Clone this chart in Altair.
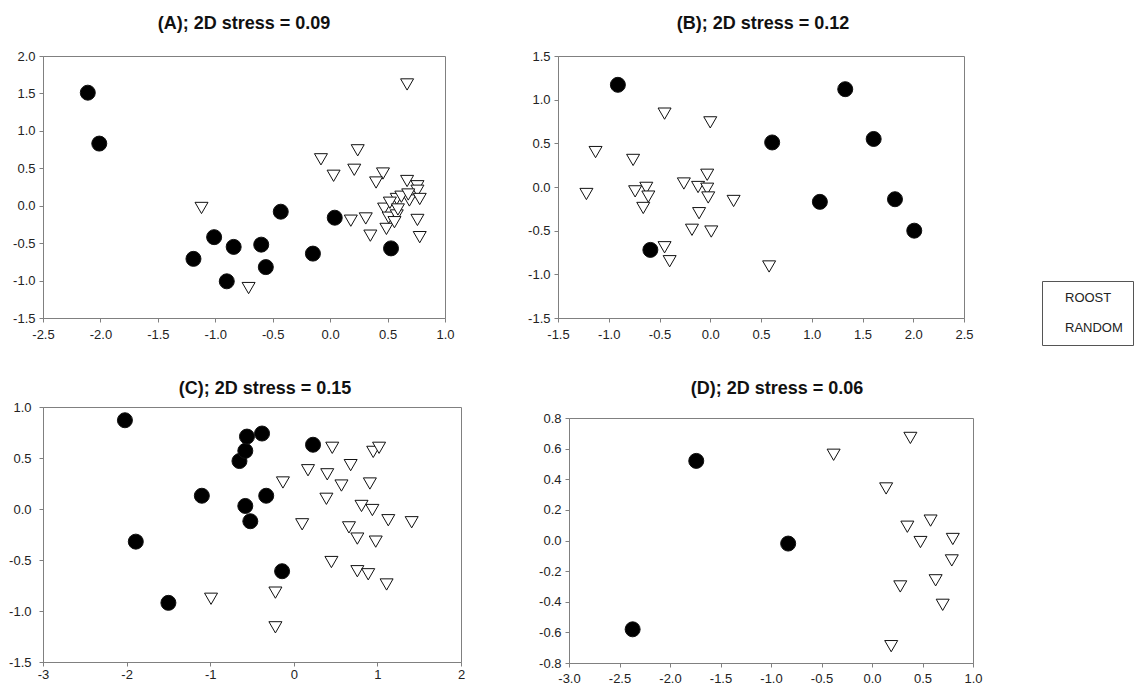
import altair as alt
import pandas as pd

FONT = "Liberation Sans"

# ---------------- Panel A ----------------
A_roost_x = [-2.11, -2.01, -1.19, -1.01, -0.84, -0.90, -0.60, -0.56, -0.43, -0.15, 0.04, 0.53]
A_roost_y = [1.51, 0.83, -0.71, -0.42, -0.55, -1.01, -0.52, -0.82, -0.08, -0.64, -0.16, -0.57]
A_random_x = [-1.12, -0.71, -0.08, 0.03, 0.24, 0.21, 0.46, 0.40, 0.18, 0.31, 0.35, 0.49, 0.47,
              0.51, 0.58, 0.58, 0.67, 0.76, 0.76, 0.69, 0.78, 0.76, 0.78, 0.67, 0.52, 0.59,
              0.62, 0.56, 0.68]
A_random_y = [-0.03, -1.10, 0.62, 0.40, 0.74, 0.48, 0.43, 0.31, -0.20, -0.17, -0.40, -0.31, -0.04,
              -0.16, 0.09, -0.13, 0.33, 0.26, 0.20, 0.07, 0.09, -0.19, -0.42, 1.62, 0.04, -0.05,
              0.12, -0.22, 0.15]
A_xticks = [-2.5, -2.0, -1.5, -1.0, -0.5, 0.0, 0.5, 1.0]
A_yticks = [-1.5, -1.0, -0.5, 0.0, 0.5, 1.0, 1.5, 2.0]

# ---------------- Panel B ----------------
B_roost_x = [-0.91, 1.33, 0.61, 1.61, 1.08, 1.82, 2.01, -0.59]
B_roost_y = [1.17, 1.12, 0.51, 0.55, -0.17, -0.14, -0.50, -0.72]
B_random_x = [-1.22, -1.13, -0.76, -0.45, 0.00, -0.74, -0.63, -0.61, -0.66, -0.26, -0.12,
              -0.03, -0.03, -0.02, -0.11, -0.18, 0.01, 0.23, -0.45, -0.40, 0.58]
B_random_y = [-0.08, 0.40, 0.31, 0.84, 0.74, -0.05, -0.01, -0.11, -0.24, 0.04, 0.00,
              0.14, -0.02, -0.12, -0.30, -0.49, -0.51, -0.16, -0.69, -0.85, -0.91]
B_xticks = [-1.5, -1.0, -0.5, 0.0, 0.5, 1.0, 1.5, 2.0, 2.5]
B_yticks = [-1.5, -1.0, -0.5, 0.0, 0.5, 1.0, 1.5]

# ---------------- Panel C ----------------
C_roost_x = [-2.02, -1.89, -1.50, -1.10, -0.65, -0.58, -0.56, -0.38, -0.58, -0.52, -0.33, 0.23, -0.14]
C_roost_y = [0.87, -0.32, -0.92, 0.13, 0.47, 0.57, 0.71, 0.74, 0.03, -0.12, 0.13, 0.63, -0.61]
C_random_x = [-0.99, -0.22, -0.22, -0.13, 0.10, 0.17, 0.40, 0.46, 0.39, 0.57, 0.68, 0.45, 0.66,
              0.76, 0.76, 0.89, 0.81, 0.94, 0.91, 0.98, 0.95, 1.02, 1.13, 1.11, 1.41]
C_random_y = [-0.88, -0.82, -1.16, 0.26, -0.15, 0.38, 0.34, 0.60, 0.10, 0.23, 0.43, -0.52, -0.18,
              -0.29, -0.61, -0.64, 0.03, -0.01, 0.25, -0.32, 0.56, 0.60, -0.11, -0.74, -0.13]
C_xticks = [-3, -2, -1, 0, 1, 2]
C_yticks = [-1.5, -1.0, -0.5, 0.0, 0.5, 1.0]

# ---------------- Panel D ----------------
D_roost_x = [-2.37, -1.74, -0.83]
D_roost_y = [-0.58, 0.52, -0.02]
D_random_x = [-0.38, 0.38, 0.14, 0.35, 0.58, 0.48, 0.80, 0.79, 0.63, 0.28, 0.70, 0.19]
D_random_y = [0.56, 0.67, 0.34, 0.09, 0.13, -0.01, 0.01, -0.13, -0.26, -0.30, -0.42, -0.69]
D_xticks = [-3.0, -2.5, -2.0, -1.5, -1.0, -0.5, 0.0, 0.5, 1.0]
D_yticks = [-0.8, -0.6, -0.4, -0.2, 0.0, 0.2, 0.4, 0.6, 0.8]

GROUPS = ["ROOST", "RANDOM"]
TITLES = ["(A); 2D stress = 0.09", "(B); 2D stress = 0.12",
          "(C); 2D stress = 0.15", "(D); 2D stress = 0.06"]

# filled circle for roosts, open downward triangle (slightly smaller) for random points
TRIANGLE_DOWN = "M0,0.75L-0.867,-0.75L0.867,-0.75Z"


def table(rx, ry, nx, ny):
    return pd.DataFrame({
        "x": rx + nx,
        "y": ry + ny,
        "group": [GROUPS[0]] * len(rx) + [GROUPS[1]] * len(nx),
    })


def lab(dec):
    return ("(datum.value < -1e-9 ? '-' : '') + format(abs(datum.value), '.%df')" % dec)


fill_scale = alt.Scale(domain=GROUPS, range=["#000000", "#ffffff"])
shape_scale = alt.Scale(domain=GROUPS, range=["circle", TRIANGLE_DOWN])

# legend position is relative to the top-left corner of panel A's plot area
legend = alt.Legend(
    title=None, orient="none", legendX=999, legendY=225,
    symbolOpacity=0, symbolStrokeWidth=0, symbolSize=1,
    labelOffset=0, padding=10, rowPadding=16,
    strokeColor="#555555", fillColor="#ffffff",
    labelFont=FONT, labelFontSize=13, labelColor="#222222",
)


def panel(df, title, xdom, ydom, xt, yt, xdec, ydec, w, h, toff, tdx, xpad, ypad):
    return alt.Chart(df).mark_point(
        filled=True, stroke="#111111", strokeWidth=1, opacity=1, size=225
    ).encode(
        x=alt.X("x:Q", scale=alt.Scale(domain=xdom, nice=False, zero=False),
                axis=alt.Axis(values=xt, labelExpr=lab(xdec), title=None, grid=False,
                              tickSize=4, labelPadding=xpad, labelFlush=False)),
        y=alt.Y("y:Q", scale=alt.Scale(domain=ydom, nice=False, zero=False),
                axis=alt.Axis(values=yt, labelExpr=lab(ydec), title=None, grid=False,
                              tickSize=4, labelPadding=ypad, labelFlush=False)),
        fill=alt.Fill("group:N", scale=fill_scale, legend=legend),
        shape=alt.Shape("group:N", scale=shape_scale, legend=legend),
    ).properties(
        width=w, height=h,
        title=alt.TitleParams(title, font=FONT, fontSize=18, fontWeight="bold",
                              color="#111111", anchor="middle", frame="group",
                              offset=toff, dx=tdx),
    )


def spacer(w):
    # invisible 1px strip so that the two lower panels share a common title line
    return alt.Chart(pd.DataFrame({"v": [0]})).mark_point(opacity=0).properties(
        width=w, height=1, view=alt.ViewBackground(stroke="transparent")
    )


pA = panel(table(A_roost_x, A_roost_y, A_random_x, A_random_y), TITLES[0],
           [-2.5, 1.0], [-1.5, 2.0], A_xticks, A_yticks, 1, 1, 402, 262, 17, 0, 6, 4)
pB = panel(table(B_roost_x, B_roost_y, B_random_x, B_random_y), TITLES[1],
           [-1.5, 2.5], [-1.5, 1.5], B_xticks, B_yticks, 1, 1, 406, 262, 17, 2, 6, 4)
pC = panel(table(C_roost_x, C_roost_y, C_random_x, C_random_y), TITLES[2],
           [-3, 2], [-1.5, 1.0], C_xticks, C_yticks, 0, 1, 418, 255, 3.5, 13, 2, 8)
pD = panel(table(D_roost_x, D_roost_y, D_random_x, D_random_y), TITLES[3],
           [-3.0, 1.0], [-0.8, 0.8], D_xticks, D_yticks, 1, 1, 404, 245, 14.5, 6, 5, 4)

row1 = alt.hconcat(pA, pB, spacing=72)
row2 = alt.hconcat(
    alt.vconcat(spacer(418), pC, spacing=0),
    alt.vconcat(spacer(404), pD, spacing=0),
    spacing=72,
)

chart = alt.vconcat(row1, row2, spacing=30).properties(
    background="#ffffff",
    padding={"left": 0, "top": 6, "right": 0, "bottom": 0},
).configure_view(
    stroke="#808080", strokeWidth=1
).configure_axis(
    domainColor="#808080", tickColor="#808080", labelColor="#222222",
    labelFont=FONT, labelFontSize=13
)

chart.save("out.html", embed_options={"renderer": "svg", "actions": False})
